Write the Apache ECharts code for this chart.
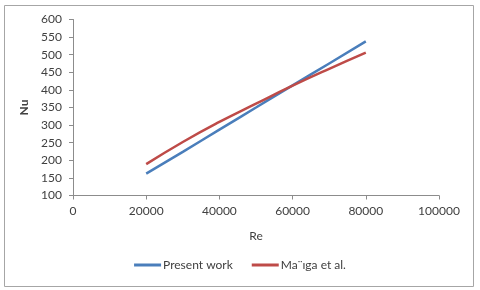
<!DOCTYPE html>
<html><head><meta charset="utf-8">
<script src="https://cdn.jsdelivr.net/npm/echarts@6/dist/echarts.min.js"></script>
<style>html,body{margin:0;padding:0;background:#fff}#c{width:480px;height:290px}</style>
</head><body><div id="c"></div>
<script>
var reValues = [20000, 30000, 40000, 50000, 60000, 70000, 80000];
var presentWork = [162, 224, 287, 350, 413, 475, 538];
var maigaEtAl = [189, 252, 309, 361, 412, 460, 506];
var seriesNames = ['Present work', 'Ma¨ıga et al.'];
var FONT = 'Lato';
function pairs(xs, ys){ return xs.map(function(x,i){return [x, ys[i]];}); }
var chart = echarts.init(document.getElementById('c'));
chart.setOption({
  animation: false,
  textStyle: {fontFamily: FONT},
  graphic: [{type:'rect', shape:{x:4.5,y:5.5,width:469,height:281}, style:{fill:null, stroke:'#a6a6a6', lineWidth:1}}],
  grid: {left: 73, right: 41, top: 19.5, bottom: 94.5},
  xAxis: {
    type: 'value', min: 0, max: 100000, interval: 20000,
    name: 'Re', nameLocation: 'middle', nameGap: 35,
    nameTextStyle: {fontFamily: FONT, fontSize: 12, color: '#404040'},
    axisLine: {show: true, lineStyle: {color: '#8c8c8c'}},
    axisTick: {show: true, length: 4, lineStyle: {color: '#8c8c8c'}},
    axisLabel: {fontFamily: FONT, fontSize: 12, color: '#404040', margin: 10, formatter: function(v){return String(v);}},
    splitLine: {show: false}
  },
  yAxis: {
    type: 'value', min: 100, max: 600, interval: 50,
    name: 'Nu', nameLocation: 'middle', nameGap: 38, nameRotate: 90,
    nameTextStyle: {fontFamily: FONT, fontSize: 12, fontWeight: 'bold', color: '#404040'},
    axisLine: {show: true, lineStyle: {color: '#8c8c8c'}},
    axisTick: {show: true, length: 4, lineStyle: {color: '#8c8c8c'}},
    axisLabel: {fontFamily: FONT, fontSize: 12, color: '#404040', margin: 11},
    splitLine: {show: false}
  },
  legend: {
    bottom: 14, left: 'center', itemWidth: 27, itemHeight: 3, itemGap: 19, icon: 'rect',
    textStyle: {fontFamily: FONT, fontSize: 12, color: '#404040', padding: [0,0,0,-3]},
    data: seriesNames
  },
  series: [
    {name: seriesNames[0], type: 'line', smooth: true, symbol: 'none', data: pairs(reValues, presentWork), lineStyle: {color: '#4a7ebb', width: 2.5}, itemStyle:{color:'#4a7ebb'}},
    {name: seriesNames[1], type: 'line', smooth: true, symbol: 'none', data: pairs(reValues, maigaEtAl), lineStyle: {color: '#be4b48', width: 2.5}, itemStyle:{color:'#be4b48'}}
  ]
});
</script></body></html>
